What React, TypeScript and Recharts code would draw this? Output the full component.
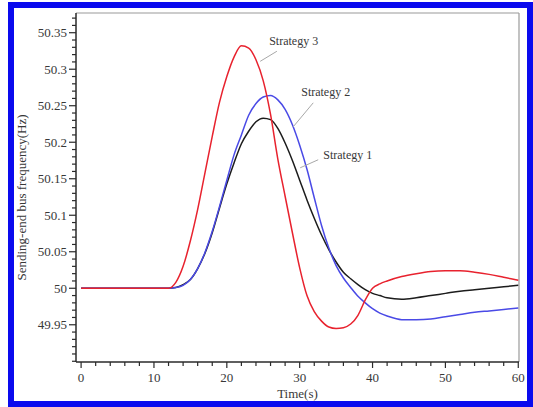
import { Label, Line, LineChart, ReferenceDot, ReferenceLine, XAxis, YAxis } from 'recharts';

const times = [0, 4, 8, 11, 12, 13, 14, 15, 16, 17, 18, 19, 20, 21, 22, 23, 24, 25, 26, 27, 28, 29, 30, 31, 32, 33, 34, 35, 36, 37, 38, 39, 40, 41, 42, 44, 46, 48, 50, 52, 54, 56, 58, 60];

const strategy1 = [50, 50, 50, 50, 50, 50.001, 50.005, 50.012, 50.027, 50.048, 50.076, 50.11, 50.143, 50.172, 50.198, 50.215, 50.228, 50.233, 50.231, 50.219, 50.199, 50.175, 50.148, 50.121, 50.096, 50.073, 50.053, 50.036, 50.022, 50.013, 50.005, 49.998, 49.993, 49.99, 49.987, 49.985, 49.987, 49.99, 49.993, 49.996, 49.998, 50.0, 50.002, 50.004];

const strategy2 = [50, 50, 50, 50, 50, 50.001, 50.004, 50.012, 50.027, 50.049, 50.078, 50.112, 50.148, 50.183, 50.21, 50.237, 50.253, 50.262, 50.264, 50.258, 50.245, 50.224, 50.196, 50.163, 50.124, 50.086, 50.055, 50.031, 50.014, 50.001, 49.989, 49.98, 49.972, 49.966, 49.962, 49.957, 49.957, 49.958, 49.961, 49.964, 49.967, 49.969, 49.971, 49.973];

const strategy3 = [50, 50, 50, 50, 50, 50.008, 50.03, 50.065, 50.108, 50.158, 50.208, 50.255, 50.29, 50.317, 50.332, 50.329, 50.313, 50.284, 50.238, 50.177, 50.126, 50.076, 50.028, 49.99, 49.968, 49.955, 49.947, 49.945, 49.946, 49.951, 49.963, 49.984, 50.0, 50.006, 50.01, 50.016, 50.02, 50.023, 50.024, 50.024, 50.022, 50.019, 50.015, 50.011];

const xTickLabels = [0, 10, 20, 30, 40, 50, 60];
const yTickLabels = [49.95, 50, 50.05, 50.1, 50.15, 50.2, 50.25, 50.3, 50.35];

const data = times.map((t, i) => ({ t, s1: strategy1[i], s2: strategy2[i], s3: strategy3[i] }));

// minor ticks: every 2 s, every 0.01 Hz
const xTicks = Array.from({ length: 31 }, (_, i) => i * 2);
const yTicks = Array.from({ length: 48 }, (_, i) => +(49.9 + i * 0.01).toFixed(2));

const X_MIN = -0.7;
const X_MAX = 60.1;
const Y_MIN = 49.899;
const Y_MAX = 50.377;

const font = '"Liberation Serif", "DejaVu Serif", serif';
const textColor = '#383838';
const axisColor = '#2a2a2a';

function XTick({ x, y, payload }: any) {
  const major = xTickLabels.includes(payload.value);
  return (
    <g>
      <line x1={x} x2={x} y1={y} y2={y + (major ? 6 : 4)} stroke={axisColor} strokeWidth={1.2} />
      {major && (
        <text x={x} y={y + 20} textAnchor="middle" fontSize={13} style={{ fontFamily: font }} fill={textColor}>
          {payload.value}
        </text>
      )}
    </g>
  );
}

function YTick({ x, y, payload }: any) {
  const major = yTickLabels.some((v) => Math.abs(v - payload.value) < 1e-6);
  return (
    <g>
      <line x1={x} x2={x - (major ? 7 : 4)} y1={y} y2={y} stroke={axisColor} strokeWidth={1.2} />
      {major && (
        <text x={x - 9} y={y + 4.5} textAnchor="end" fontSize={13} style={{ fontFamily: font }} fill={textColor}>
          {payload.value}
        </text>
      )}
    </g>
  );
}

function note(text: string) {
  return (p: any) => (
    <text x={p.cx} y={p.cy} fontSize={12} style={{ fontFamily: font }} fill={textColor}>
      {text}
    </text>
  );
}

export default function App() {
  return (
    <div style={{ position: 'absolute', left: 0, top: 0, width: 533, height: 407, background: '#fff', fontFamily: font }}>
      <div
        style={{
          position: 'absolute',
          left: 8,
          top: 2,
          width: 525,
          height: 405,
          border: '6px solid #0a0aee',
          boxSizing: 'border-box',
        }}
      />
      <div style={{ position: 'absolute', left: 0, top: 0 }}>
        <LineChart
          width={533}
          height={407}
          data={data}
          margin={{ top: 13, right: 14, left: 16, bottom: 0 }}
          style={{ fontFamily: font }}
        >
          <XAxis
            dataKey="t"
            type="number"
            domain={[X_MIN, X_MAX]}
            ticks={xTicks}
            interval={0}
            allowDataOverflow
            height={45}
            tickSize={0}
            tickMargin={0}
            tickLine={false}
            tick={<XTick />}
            axisLine={{ stroke: axisColor, strokeWidth: 1.5 }}
          >
            <Label
              content={(p: any) => (
                <text
                  x={p.viewBox.x + p.viewBox.width / 2}
                  y={p.viewBox.y + 36}
                  textAnchor="middle"
                  fontSize={13}
                  style={{ fontFamily: font }}
                  fill={textColor}
                >
                  Time(s)
                </text>
              )}
            />
          </XAxis>
          <YAxis
            type="number"
            domain={[Y_MIN, Y_MAX]}
            ticks={yTicks}
            interval={0}
            allowDataOverflow
            width={60}
            tickSize={0}
            tickMargin={0}
            tickLine={false}
            tick={<YTick />}
            axisLine={{ stroke: axisColor, strokeWidth: 1.5 }}
          >
            <Label
              content={(p: any) => {
                const cx = p.viewBox.x + 10;
                const cy = p.viewBox.y + p.viewBox.height / 2 + 10;
                return (
                  <text
                    x={cx}
                    y={cy}
                    transform={`rotate(-90 ${cx} ${cy})`}
                    textAnchor="middle"
                    fontSize={13}
                    style={{ fontFamily: font }}
                    fill={textColor}
                  >
                    Sending-end bus frequency(Hz)
                  </text>
                );
              }}
            />
          </YAxis>
          <ReferenceLine y={Y_MAX} stroke="#9a9a9a" strokeWidth={1.2} />
          <ReferenceLine x={X_MAX} stroke="#9a9a9a" strokeWidth={1.2} />
          <Line dataKey="s1" type="monotone" stroke="#1c1c1c" strokeWidth={1.5} dot={false} isAnimationActive={false} />
          <Line dataKey="s2" type="monotone" stroke="#4a4ae6" strokeWidth={1.5} dot={false} isAnimationActive={false} />
          <Line dataKey="s3" type="monotone" stroke="#e8222e" strokeWidth={1.5} dot={false} isAnimationActive={false} />
          <ReferenceLine segment={[{ x: 26.87, y: 50.3246 }, { x: 24.58, y: 50.3108 }]} stroke="#a8a8a8" />
          <ReferenceLine segment={[{ x: 31.86, y: 50.254 }, { x: 29.1, y: 50.221 }]} stroke="#a8a8a8" />
          <ReferenceLine segment={[{ x: 32.54, y: 50.176 }, { x: 30.07, y: 50.165 }]} stroke="#a8a8a8" />
          <ReferenceDot x={25.81} y={50.3333} r={0} shape={note('Strategy 3')} />
          <ReferenceDot x={30.21} y={50.2634} r={0} shape={note('Strategy 2')} />
          <ReferenceDot x={33.23} y={50.1774} r={0} shape={note('Strategy 1')} />
        </LineChart>
      </div>
    </div>
  );
}
